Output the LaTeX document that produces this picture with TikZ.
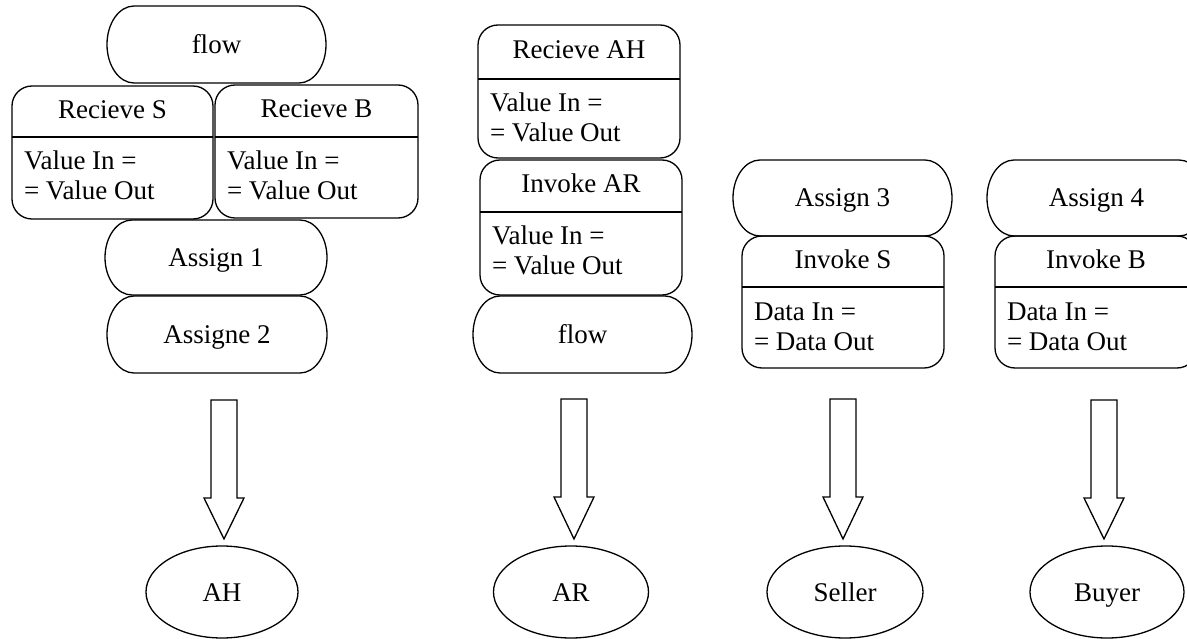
\documentclass[tikz,border=0pt]{standalone}
\usepackage{fontspec}
\setmainfont{Liberation Serif}
\usetikzlibrary{calc,shapes.geometric}
\tikzset{
  ln/.style={draw=black, line width=1.3pt},
  txt/.style={font=\fontsize{27}{31}\selectfont, inner sep=0pt, outer sep=0pt, text height=18pt, text depth=0pt},
  pillbox/.style={txt, shape=rectangle},
  cboxstyle/.style={ln, shape=rectangle, rounded corners=20pt, inner sep=0pt, outer sep=0pt},
  ell/.style={ln, txt, shape=ellipse, inner sep=0pt},
}
% pill: name, cx, cy (image px, y down), w, h, text
\newcommand\pillshape[6]{%
  \node[pillbox, minimum width=#4, minimum height=#5] (#1) at (#2,-#3) {#6};
  \draw[ln] ([xshift=27pt]#1.north west) -- ([xshift=-27pt]#1.north east)
    arc[start angle=90, end angle=-90, x radius=27pt, y radius={#5pt/2}]
    -- ([xshift=27pt]#1.south west)
    arc[start angle=270, end angle=90, x radius=27pt, y radius={#5pt/2}] -- cycle;
}
% compartment box: name, x1, y1, x2, y2, ydiv, title, line1, line2
\newcommand\cboxshape[9]{%
  \node[cboxstyle, minimum width={#4-#2}, minimum height={#5-#3}] (#1) at ({(#2+#4)/2},{-(#3+#5)/2}) {};
  \draw[ln] (#1.west |- 0,-#6) -- (#1.east |- 0,-#6);
  \node[txt] (#1t) at ({(#2+#4)/2},{-(#3+#6)/2+2}) {#7};
  \node[txt, anchor=west] (#1a) at ({#2+12},{-#6-24}) {#8};
  \node[txt, anchor=west] (#1b) at ({#2+12},{-#6-54}) {#9};
}
% block arrow from coordinate #1 down to node #2
\newcommand\blockarrow[2]{%
  \draw[ln, line join=miter] let \p1=(#1), \p2=(#2.north) in
    (\x1-13pt,\y1) -- (\x1-13pt,\y1-98pt) -- (\x1-20pt,\y1-98pt) -- (\x1,\y2+7pt)
    -- (\x1+20pt,\y1-98pt) -- (\x1+13pt,\y1-98pt) -- (\x1+13pt,\y1) -- cycle;
}
\begin{document}
\begin{tikzpicture}[x=1pt,y=1pt]
\useasboundingbox (0,0) rectangle (1187,-639);
\clip (0,0) rectangle (1187,-639);
\fill[white] (0,0) rectangle (1187,-639);

% column 1
\pillshape{flowA}{216.5}{44.5}{219}{77}{flow}
\cboxshape{recS}{12}{86}{213}{219}{137}{Recieve S}{Value In =}{= Value Out}
\cboxshape{recB}{215}{85}{418}{218}{137}{Recieve B}{Value In =}{= Value Out}
\pillshape{asgA}{216}{257.5}{222}{75}{Assign 1}
\pillshape{asgB}{217}{334.5}{220}{77}{Assigne 2}

% column 2
\cboxshape{recAH}{478}{25}{680}{158}{79}{Recieve AH}{Value In =}{= Value Out}
\cboxshape{invAR}{480}{160}{682}{295}{212}{Invoke AR}{Value In =}{= Value Out}
\pillshape{flowB}{582.5}{334.5}{219}{77}{flow}

% column 3
\pillshape{asgC}{842.5}{198}{219}{76}{Assign 3}
\cboxshape{invS}{742}{236}{944}{368}{287}{Invoke S}{Data In =}{= Data Out}

% column 4
\pillshape{asgD}{1096.5}{198}{219}{76}{Assign 4}
\cboxshape{invB}{995}{236}{1197}{368}{287}{Invoke B}{Data In =}{= Data Out}

% targets
\node[ell, minimum width=152, minimum height=92] (ah) at (222,-592) {AH};
\node[ell, minimum width=155, minimum height=92] (ar) at (571,-592) {AR};
\node[ell, minimum width=156, minimum height=92] (seller) at (845,-592) {Seller};
\node[ell, minimum width=154, minimum height=92] (buyer) at (1107,-592) {Buyer};

\coordinate (tA) at (224,-400);
\coordinate (tB) at (574,-399);
\coordinate (tC) at (843,-399);
\coordinate (tD) at (1104,-400);
\blockarrow{tA}{ah}
\blockarrow{tB}{ar}
\blockarrow{tC}{seller}
\blockarrow{tD}{buyer}
\end{tikzpicture}
\end{document}
